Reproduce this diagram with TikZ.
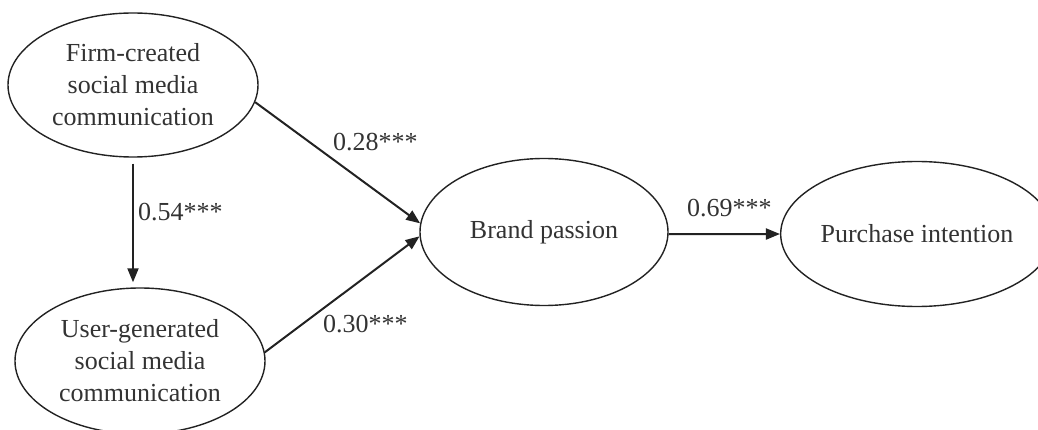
\documentclass[tikz,border=0pt]{standalone}
\usepackage{fontspec}
\setmainfont{Liberation Serif}
\usetikzlibrary{shapes.geometric,arrows.meta}
\definecolor{txt}{HTML}{333333}
\definecolor{ln}{HTML}{222222}
\begin{document}
\begin{tikzpicture}[x=1pt,y=-1pt,
  latent/.style={ellipse,draw=ln,line width=1.4pt,inner sep=0pt,align=center,
    text=txt,font=\fontsize{26}{32}\selectfont},
  coef/.style={inner sep=0pt,anchor=west,text=txt,font=\fontsize{26}{32}\selectfont},
  path/.style={draw=ln,line width=2pt,-{Triangle[length=14pt,width=11pt]}}]
\useasboundingbox (0,0) rectangle (1038,430);
\node[latent,minimum width=250pt,minimum height=144pt] (firm) at (133,85)
  {Firm-created\\social media\\communication};
\node[latent,minimum width=250pt,minimum height=146pt] (user) at (140,361)
  {User-generated\\social media\\communication};
\node[latent,minimum width=248pt,minimum height=147pt] (brand) at (544,232)
  {Brand passion};
\node[latent,minimum width=238pt,minimum height=145pt] (purch) at (917,234)
  {Purchase intention};
\draw[path,shorten <=6pt,shorten >=5pt] (firm.south) -- (firm.south |- user.north);
\draw[path] (firm.-8) -- (brand.176);
\draw[path] (user.4) -- (brand.182);
\draw[path] (brand.-1) -- (purch.west);
\node[coef] (l54) at (138,212) {0.54***};
\node[coef] (l28) at (333,142) {0.28***};
\node[coef] (l30) at (323,324) {0.30***};
\node[coef] (l69) at (687,208) {0.69***};
\end{tikzpicture}
\end{document}
